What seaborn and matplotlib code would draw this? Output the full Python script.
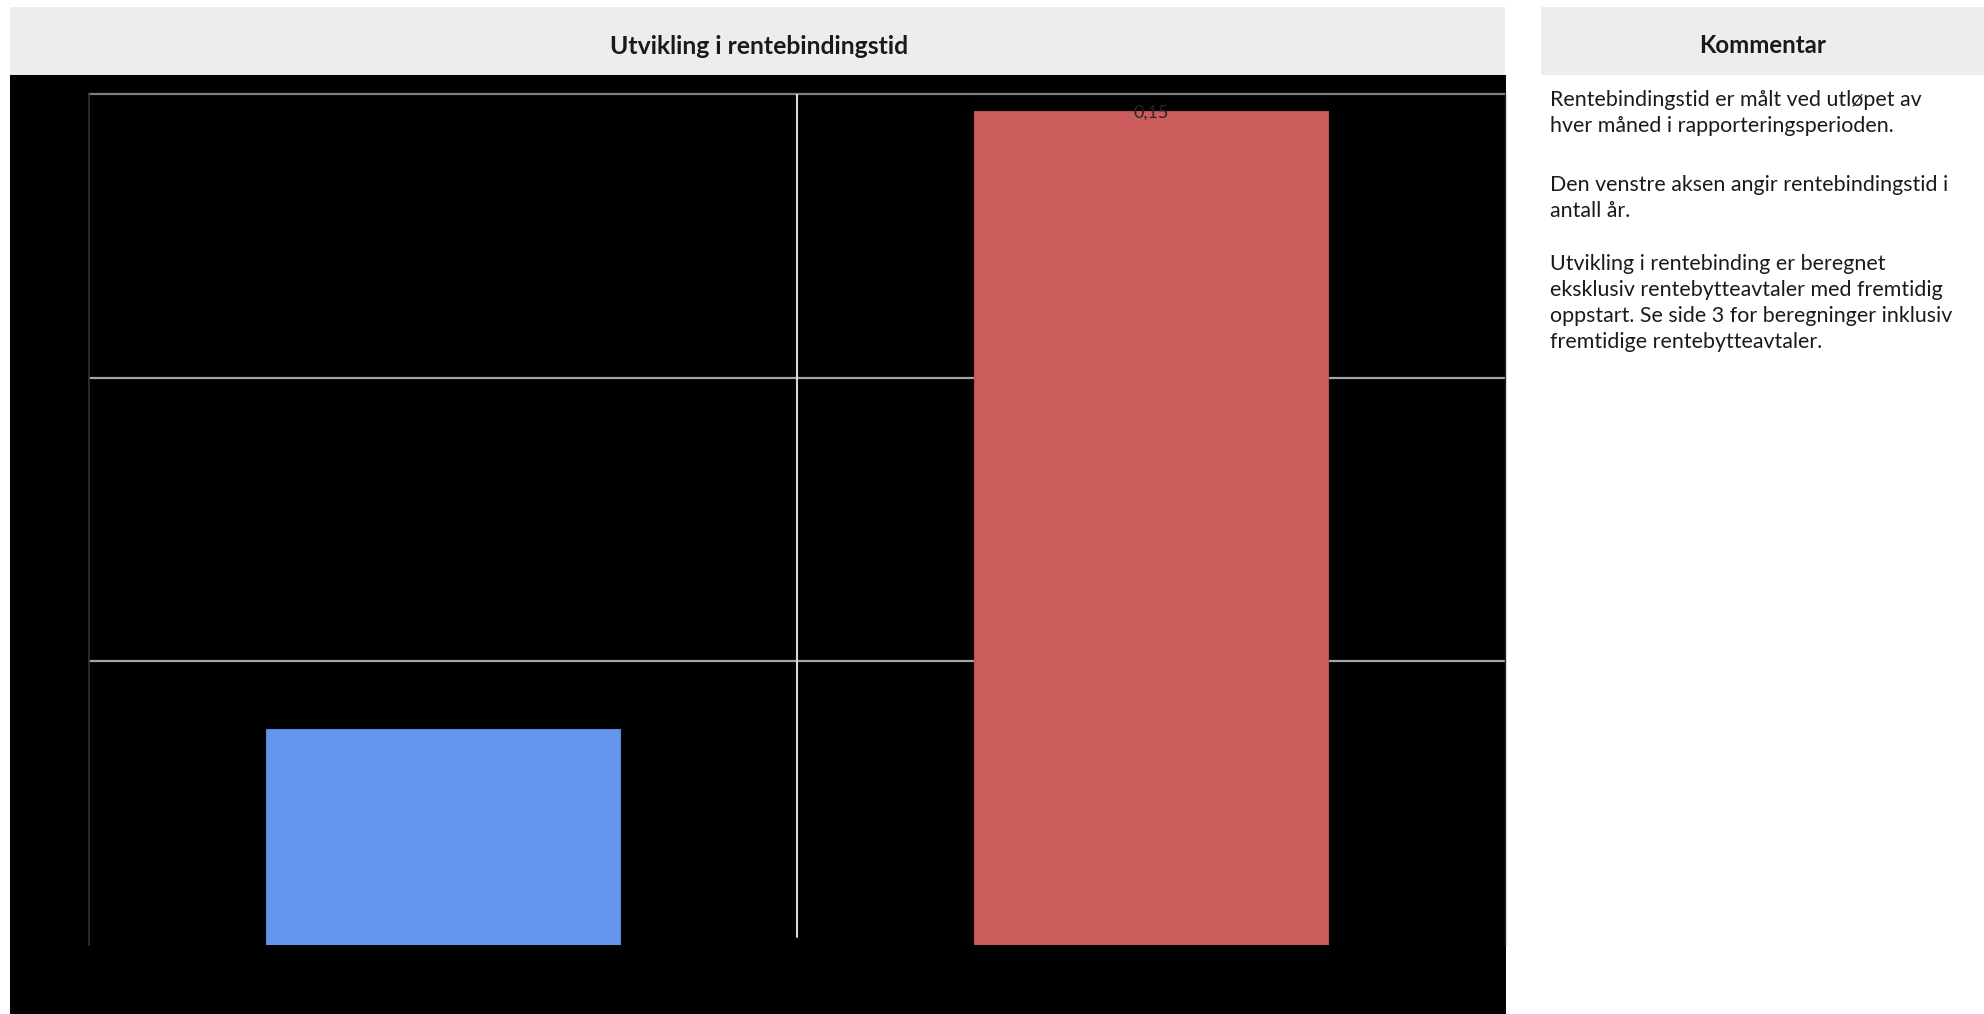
import matplotlib
matplotlib.use("Agg")
import matplotlib.pyplot as plt
import seaborn as sns
import pandas as pd
from matplotlib.patches import Rectangle

# ---------------- data ----------------
categories = ["Forrige periode", "Denne periode"]
values = [0.038, 0.147]
value_labels = ["", "0,15"]
bar_colors = ["#6495ED", "#CD5C5C"]
edge_colors = ["#5A86D6", "#B85252"]
y_ticks = [0.0, 0.05, 0.10, 0.15]

title = "Utvikling i rentebindingstid"
comment_title = "Kommentar"
comment_lines = [
    "Rentebindingstid er målt ved utløpet av",
    "hver måned i rapporteringsperioden.",
    "Den venstre aksen angir rentebindingstid i",
    "antall år.",
    "Utvikling i rentebinding er beregnet",
    "eksklusiv rentebytteavtaler med fremtidig",
    "oppstart. Se side 3 for beregninger inklusiv",
    "fremtidige rentebytteavtaler.",
]
comment_baselines = [106, 132, 191, 217, 270, 296, 322, 348]

# ---------------- figure ----------------
sns.set_style("white")
plt.rcParams["font.family"] = ["Lato", "DejaVu Sans"]

W, H = 1984, 1014
fig = plt.figure(figsize=(W / 100, H / 100), dpi=100)
fig.patch.set_facecolor("white")

def fx(px):
    return px / W

def fy(py):
    return 1 - py / H

HEADER = "#ECEDEF"
for (x0, y0, x1, y1, col) in [(10, 7, 1505, 75, HEADER),
                              (10, 75, 1506, 1014, "black"),
                              (1541, 7, 1984, 75, HEADER)]:
    fig.add_artist(Rectangle((fx(x0), fy(y1)), fx(x1) - fx(x0), fy(y0) - fy(y1),
                             transform=fig.transFigure, facecolor=col,
                             edgecolor="none", zorder=-10))

ax = fig.add_axes([fx(89), fy(945), fx(1505) - fx(89), fy(94) - fy(945)])
ax.set_zorder(5)
ax.set_facecolor("black")

df = pd.DataFrame({"kategori": categories, "verdi": values})
sns.barplot(data=df, x="kategori", y="verdi", hue="kategori", palette=bar_colors,
            width=0.5, saturation=1, legend=False, ax=ax, zorder=3)
for patch, ec in zip(ax.patches, edge_colors):
    patch.set_edgecolor(ec)
    patch.set_linewidth(0.8)

ax.set_ylim(y_ticks[0], y_ticks[-1])
ax.set_yticks(y_ticks)
ax.set_xlim(-0.5, len(categories) - 0.5)
ax.yaxis.grid(True, color="#A6A6A6", linewidth=1.6)
ax.set_axisbelow(True)
glines = ax.get_ygridlines()
glines[0].set_visible(False)
glines[-1].set_color("#7F7F7F")
glines[-1].set_clip_on(False)
ax.axvline(0.5, ymin=8 / 851, ymax=1, color="#D9D9D9", linewidth=1.5, zorder=1)

ax.set_xlabel("")
ax.set_ylabel("")
ax.set_xticklabels([])
ax.set_yticklabels([])
ax.tick_params(length=0)
for side in ["top", "bottom"]:
    ax.spines[side].set_visible(False)
ax.spines["left"].set_color("#333333")
ax.spines["left"].set_linewidth(1.2)
ax.spines["right"].set_color("#262626")
ax.spines["right"].set_linewidth(1.0)

for i, (v, lab) in enumerate(zip(values, value_labels)):
    if lab:
        ax.annotate(lab, (i, v), xytext=(0, -1), textcoords="offset points",
                    ha="center", va="center", fontsize=13, color="#262626", zorder=5)

# ---------------- texts ----------------
renderer = fig.canvas.get_renderer()

def fit_size(s, target_w, **kw):
    t = fig.text(0, 0, s, fontsize=10, **kw)
    w = t.get_window_extent(renderer=renderer).width
    t.remove()
    return 10 * target_w / w

ts = fit_size(title, 300, fontweight="bold")
fig.text(fx(759), fy(54), title, ha="center", va="baseline", fontsize=ts,
         fontweight="bold", color="#1A1A1A")

ks = fit_size(comment_title, 127, fontweight="bold")
fig.text(fx(1762.5), fy(53), comment_title, ha="center", va="baseline", fontsize=ks,
         fontweight="bold", color="#1A1A1A")

cs = fit_size(comment_lines[6], 402)
for line, b in zip(comment_lines, comment_baselines):
    fig.text(fx(1550), fy(b), line, ha="left", va="baseline", fontsize=cs, color="#1A1A1A")

fig.savefig("out.png", dpi=100, facecolor="white")
